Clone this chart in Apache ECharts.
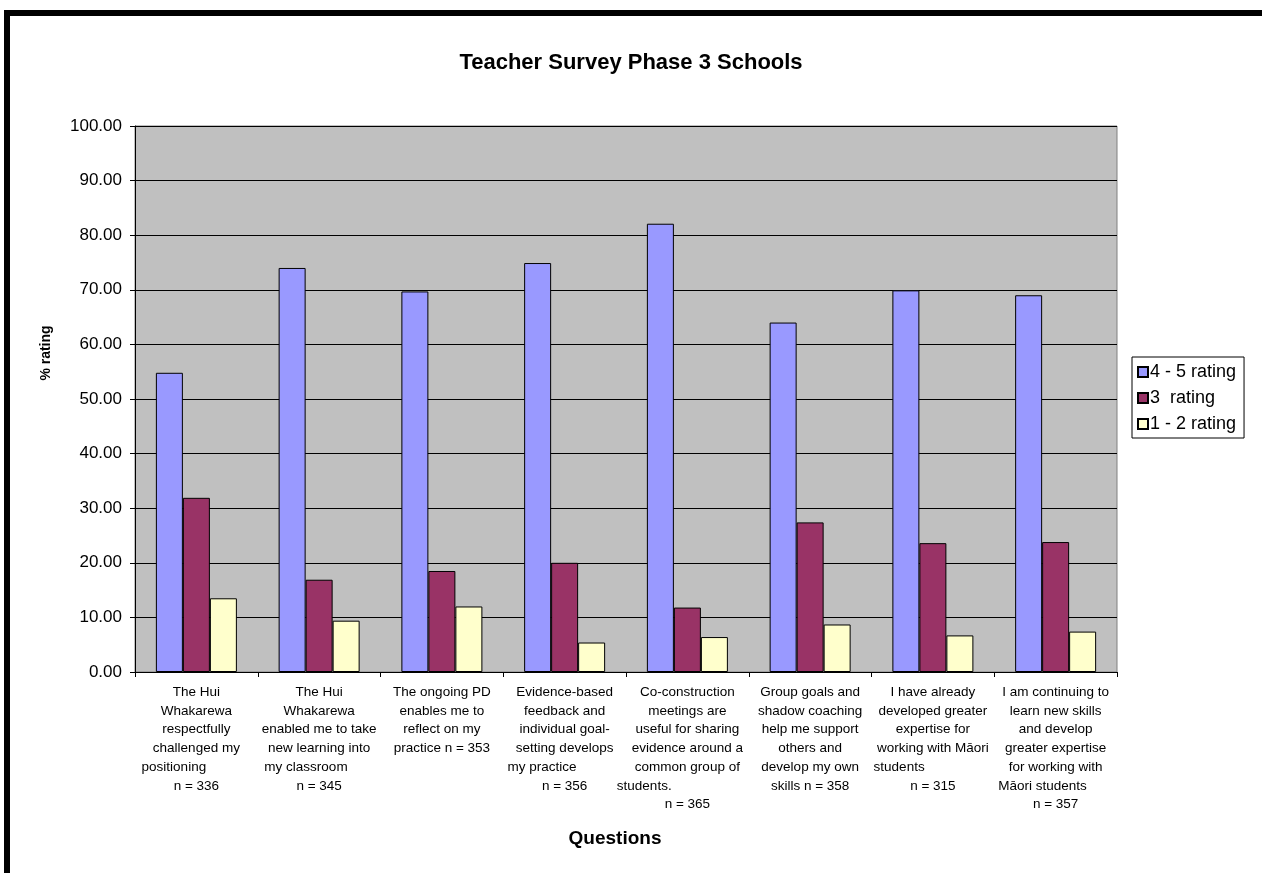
<!DOCTYPE html>
<html>
<head>
<meta charset="utf-8">
<script src="https://cdn.jsdelivr.net/npm/echarts@6/dist/echarts.min.js"></script>
<style>
html,body{margin:0;padding:0;background:#fff;}
#chart{width:1262px;height:873px;}
</style>
</head>
<body>
<div id="chart"></div>
<script>
const categories = [
  "The Hui\nWhakarewa\nrespectfully\nchallenged my\npositioning            \nn = 336",
  "The Hui\nWhakarewa\nenabled me to take\nnew learning into\nmy classroom       \nn = 345",
  "The ongoing PD\nenables me to\nreflect on my\npractice n = 353",
  "Evidence-based\nfeedback and\nindividual goal-\nsetting develops\nmy practice            \nn = 356",
  "Co-construction\nmeetings are\nuseful for sharing\nevidence around a\ncommon group of\nstudents.                       \nn = 365",
  "Group goals and\nshadow coaching\nhelp me support\nothers and\ndevelop my own\nskills n = 358",
  "I have already\ndeveloped greater\nexpertise for\nworking with Māori\nstudents                  \nn = 315",
  "I am continuing to\nlearn new skills\nand develop\ngreater expertise\nfor working with\nMāori students       \nn = 357"
];
const seriesNames = ["4 - 5 rating", "3  rating", "1 - 2 rating"];
const rating45 = [54.8, 74.0, 69.7, 74.9, 82.1, 64.0, 69.9, 69.0];
const rating3  = [31.9, 16.9, 18.5, 20.0, 11.8, 27.4, 23.6, 23.8];
const rating12 = [13.5, 9.4, 12.0, 5.4, 6.4, 8.7, 6.7, 7.4];
const yTicks = { min: 0, max: 100, interval: 10 };

const colors = ["#9999FF", "#993366", "#FFFFCC"];
const font = "Liberation Sans, Arial, sans-serif";

const chart = echarts.init(document.getElementById('chart'));
const dataSets = [rating45, rating3, rating12];
chart.setOption({
  animation: false,
  textStyle: { fontFamily: font, color: '#000' },
  title: {
    text: 'Teacher Survey Phase 3 Schools',
    left: 'center', top: 47,
    padding: [5, 0, 5, 9],
    textStyle: { fontFamily: font, fontSize: 22, fontWeight: 'bold', color: '#000' }
  },
  graphic: [{
    type: 'rect', z: 100, silent: true,
    shape: { x: 7, y: 13, width: 1300, height: 900 },
    style: { fill: 'none', stroke: '#000', lineWidth: 6 }
  }, {
    type: 'text', silent: true,
    x: 46, y: 353, rotation: Math.PI / 2,
    style: { text: '% rating', fontFamily: font, fontSize: 14, fontWeight: 'bold', fill: '#000', align: 'center', verticalAlign: 'middle' }
  }],
  legend: {
    orient: 'vertical',
    left: 1132, top: 357,
    width: 117,
    padding: [6, 8, 5, 5],
    itemGap: 8,
    itemWidth: 10, itemHeight: 10,
    icon: 'rect',
    borderColor: '#000', borderWidth: 1,
    backgroundColor: '#fff',
    textStyle: { fontFamily: font, fontSize: 18, lineHeight: 18, color: '#000', padding: [0,0,0,-3] },
    data: seriesNames
  },
  grid: { left: 135, right: 145, top: 126, bottom: 201, show: true, backgroundColor: '#C0C0C0', borderColor: '#808080', borderWidth: 1 },
  xAxis: {
    type: 'category',
    data: categories,
    name: 'Questions',
    nameLocation: 'middle',
    nameGap: 157,
    nameTextStyle: { fontFamily: font, fontSize: 19, fontWeight: 'bold', color: '#000', padding: [0, 22, 0, 0] },
    axisLine: { lineStyle: { color: '#000', width: 1 } },
    axisTick: { show: true, length: 5, lineStyle: { color: '#000' } },
    axisLabel: { interval: 0, fontFamily: font, fontSize: 13.5, lineHeight: 18.7, margin: 11, color: '#000' }
  },
  yAxis: {
    type: 'value',
    min: yTicks.min, max: yTicks.max, interval: yTicks.interval,
    axisLine: { show: true, lineStyle: { color: '#000', width: 1 } },
    axisTick: { show: true, length: 5, lineStyle: { color: '#000' } },
    axisLabel: { fontFamily: font, fontSize: 17, color: '#000', margin: 13, formatter: v => v.toFixed(2) },
    splitLine: { show: true, lineStyle: { color: '#000', width: 1 } }
  },
  series: seriesNames.map((n, i) => ({
    name: n,
    type: 'bar',
    data: dataSets[i],
    barWidth: 27,
    barGap: '0%',
    itemStyle: { color: colors[i], borderColor: '#000', borderWidth: 1 }
  }))
});
</script>
</body>
</html>
